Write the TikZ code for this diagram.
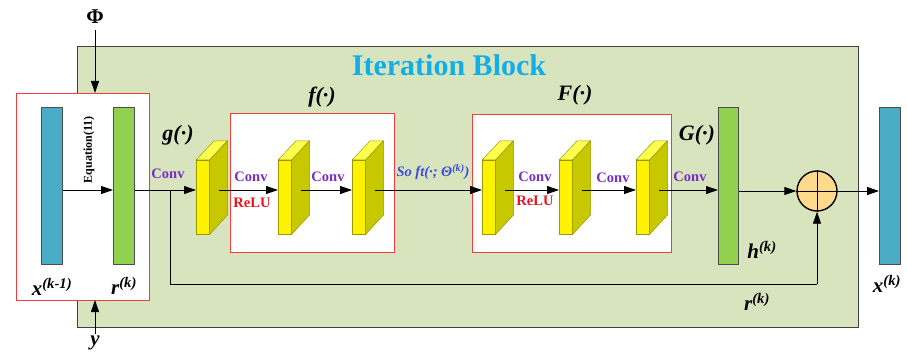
\documentclass[tikz,border=0pt]{standalone}
\usepackage{fontspec}
\setmainfont{Liberation Serif}
\usetikzlibrary{arrows.meta}
\definecolor{bggreen}{HTML}{D8E4BE}
\definecolor{barblue}{HTML}{4BACC6}
\definecolor{bargreen}{HTML}{92D050}
\definecolor{boxred}{HTML}{F03C3C}
\definecolor{titleblue}{HTML}{12AEE8}
\definecolor{convpurple}{HTML}{7A2DC0}
\definecolor{relured}{HTML}{E8141E}
\definecolor{softblue}{HTML}{3A4BE0}
\definecolor{cubeside}{HTML}{C8C800}
\definecolor{cubetop}{HTML}{FFFF50}
\definecolor{cubeedge}{HTML}{9A9A00}
\definecolor{sumfill}{HTML}{FFD98C}
\tikzset{
  arr/.style={draw=black, line width=0.9pt, -{Triangle[length=12pt,width=8pt]}},
  ln/.style={draw=black, line width=0.9pt},
  redbox/.style={draw=boxred, line width=1.2pt, fill=white, rectangle, inner sep=0pt, anchor=north west},
  bar/.style={draw=black!70, line width=0.6pt, rectangle, inner sep=0pt, minimum width=21pt, minimum height=157pt, anchor=north west},
  cubefront/.style={fill=yellow, draw=cubeedge, line width=0.5pt, rectangle, inner sep=0pt, minimum width=13pt, minimum height=74pt, anchor=north west},
  conv/.style={text=convpurple, font=\bfseries\fontsize{14.5}{14.5}\selectfont},
  relu/.style={text=relured, font=\bfseries\fontsize{14.5}{14.5}\selectfont},
  fn/.style={font=\bfseries\itshape\fontsize{22}{22}\selectfont},
  var/.style={font=\bfseries\itshape\fontsize{21}{21}\selectfont},
}
\newcommand{\mycube}[2]{%
  \node[cubefront] (#1) at (#2,160) {};
  \fill[cubeside, draw=cubeedge, line width=0.5pt] (#1.north east) -- ++(18,-19) -- ++(0,74) -- (#1.south east) -- cycle;
  \fill[cubetop, draw=cubeedge, line width=0.5pt] (#1.north west) -- ++(18,-19) -- ++(13,0) -- (#1.north east) -- cycle;
  \coordinate (#1out) at ([xshift=9pt]#1.east);
}
\begin{document}
\begin{tikzpicture}[x=1pt,y=-1pt]
\useasboundingbox (0,0) rectangle (907,358);
% background block
\node[draw=black!75, line width=0.9pt, fill=bggreen, rectangle, inner sep=0pt, minimum width=781pt, minimum height=281pt, anchor=north west] (block) at (77,46) {};
\node[text=titleblue, font=\bfseries\fontsize{30}{30}\selectfont] (title) at (449,65) {Iteration Block};
% left red box
\node[redbox, minimum width=133pt, minimum height=207pt] (lbox) at (16,93) {};
\node[bar, fill=barblue] (xin) at (41,107) {};
\node[bar, fill=bargreen] (rbar) at (113,107) {};
\node[rotate=90, font=\bfseries\fontsize{12}{12}\selectfont] (eq) at (89,150) {Equation(11)};
\node[var] (xinlab) at (52,287) {x\textsuperscript{(k-1)}};
\node[var] (rlab) at (124,286) {r\textsuperscript{(k)}};
% Phi and y
\node[font=\bfseries\fontsize{21}{21}\selectfont] (phi) at (95,17) {Φ};
\node[var] (ylab) at (95,343) {y};
\coordinate (phitop) at (95,30);
\coordinate (lboxtop) at (95,93);
\coordinate (ybot) at (95,334);
\coordinate (lboxbot) at (95,300);
\draw[arr] (phitop) -- (lboxtop);
\draw[arr] (ybot) -- (lboxbot);
% f and F boxes
\node[redbox, minimum width=164pt, minimum height=139pt] (fbox) at (230,113) {};
\node[redbox, minimum width=199pt, minimum height=138pt] (Fbox) at (472,114) {};
\node[fn] (flab) at (322,97) {f(·)};
\node[fn] (Flab) at (575,95) {F(·)};
\node[fn] (glab) at (178,135) {g(·)};
\node[fn] (Glab) at (697,135) {G(·)};
% cubes
\mycube{c1}{196}
\mycube{c2}{278}
\mycube{c3}{352}
\mycube{c4}{482}
\mycube{c5}{559}
\mycube{c6}{636}
% right side
\node[bar, fill=bargreen, minimum width=20pt] (hbar) at (718,107) {};
\node[bar, fill=barblue] (xout) at (879,107) {};
\node[circle, draw=black, line width=1.4pt, fill=sumfill, minimum size=40pt, inner sep=0pt] (sum) at (817,191) {};
\draw[line width=0.8pt] (sum.north) -- (sum.south) (sum.west) -- (sum.east);
\node[var] (hlab) at (762,250) {h\textsuperscript{(k)}};
\node[var] (rlab2) at (757,302) {r\textsuperscript{(k)}};
\node[var] (xoutlab) at (887,284) {x\textsuperscript{(k)}};
% labels on arrows
\node[conv] (cv0) at (168,174) {Conv};
\node[conv] (cv1) at (251,177) {Conv};
\node[relu] (rl1) at (252,203) {ReLU};
\node[conv] (cv2) at (328,177) {Conv};
\node[text=softblue, font=\bfseries\itshape\fontsize{14.5}{14.5}\selectfont] (soft) at (433,172) {So ft(·; Θ\textsuperscript{(k)})};
\node[conv] (cv3) at (535,177) {Conv};
\node[relu] (rl3) at (535,201) {ReLU};
\node[conv] (cv4) at (613,178) {Conv};
\node[conv] (cv5) at (690,177) {Conv};
% connectors
\coordinate (branch) at (170,190);
\coordinate (corner1) at (170,284);
\coordinate (corner2) at (817,284);
\draw[arr] (xin.east |- 0,190) -- (rbar.west |- 0,190);
\draw[arr] (rbar.east |- 0,190) -- (c1.west |- 0,190);
\draw[ln] (branch) -- (corner1) -- (corner2);
\draw[arr] (corner2) -- (sum.south);
\draw[arr] (c1out |- 0,190) -- (c2.west |- 0,190);
\draw[arr] (c2out |- 0,190) -- (c3.west |- 0,190);
\draw[arr] (c3out |- 0,190) -- (c4.west |- 0,190);
\draw[arr] (c4out |- 0,190) -- (c5.west |- 0,190);
\draw[arr] (c5out |- 0,190) -- (c6.west |- 0,190);
\draw[arr] (c6out |- 0,190) -- (hbar.west |- 0,190);
\draw[arr] (hbar.east |- 0,191) -- (sum.west);
\draw[arr] (sum.east) -- (xout.west |- 0,191);
\end{tikzpicture}
\end{document}
